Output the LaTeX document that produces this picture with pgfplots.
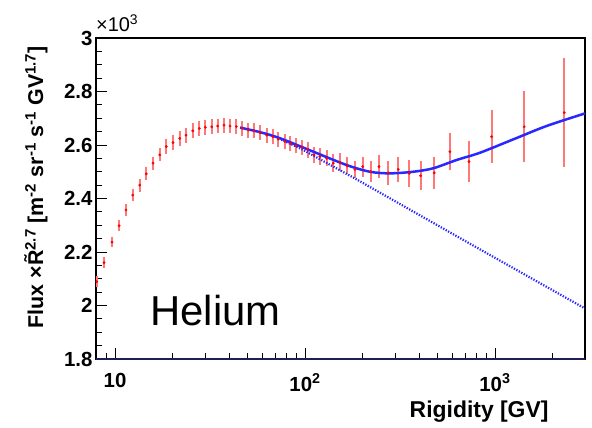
\documentclass[border=0pt]{standalone}
\usepackage{fontspec}
\setmainfont{Liberation Sans}
\usepackage{pgfplots}
\usepackage{pgfplotstable}
\pgfplotsset{compat=1.18}
\pgfplotstableread{
x y e
8.01 2.089 0.020
8.75 2.160 0.020
9.64 2.237 0.020
10.50 2.298 0.020
11.42 2.357 0.024
12.39 2.413 0.024
13.49 2.450 0.024
14.61 2.492 0.024
15.85 2.532 0.024
17.19 2.563 0.024
18.62 2.594 0.028
20.20 2.609 0.028
21.90 2.625 0.028
23.64 2.637 0.028
25.64 2.653 0.028
27.77 2.662 0.028
29.88 2.666 0.028
32.28 2.668 0.028
34.72 2.671 0.028
37.48 2.674 0.028
40.30 2.671 0.028
43.49 2.669 0.028
46.77 2.663 0.028
50.30 2.656 0.028
53.90 2.653 0.028
57.97 2.646 0.028
62.87 2.637 0.028
67.61 2.631 0.028
72.37 2.622 0.028
78.48 2.613 0.028
83.89 2.606 0.028
89.69 2.598 0.028
96.07 2.592 0.028
103.3 2.583 0.030
111.5 2.563 0.030
119.9 2.557 0.030
130.1 2.550 0.030
140.9 2.532 0.033
152.9 2.535 0.034
167.0 2.522 0.032
183.3 2.509 0.031
201.3 2.519 0.037
221.8 2.500 0.040
245.2 2.519 0.044
274.4 2.496 0.044
309.8 2.509 0.047
354.0 2.494 0.050
406.4 2.485 0.054
479.2 2.496 0.059
579.6 2.575 0.069
729.8 2.538 0.077
960.7 2.631 0.100
1426 2.668 0.132
2317 2.721 0.203
}\heliumdata
\pgfplotstableread{
x y
45.5 2.665
58 2.648
74 2.625
110.6 2.575
165.8 2.525
219.8 2.500
280.2 2.494
371.5 2.500
473.5 2.513
628.7 2.544
833.7 2.571
1248.7 2.621
1870 2.671
2977 2.718
}\fitdata
\pgfplotstableread{
x y
75 2.620
94 2.588
180 2.478
710 2.238
2977 1.989
}\pldata
\definecolor{fitblue}{RGB}{40,40,255}
\definecolor{barred}{RGB}{255,120,120}
\begin{document}
\begin{tikzpicture}
\path[use as bounding box] (-96bp,-69bp) rectangle (496bp,359bp);
\begin{axis}[
  scale only axis, width=489bp, height=321bp,
  xmode=log, xmin=7.94, xmax=2980, ymin=1.8, ymax=3,
  xtick={10,100,1000},
  xticklabels={10,10\textsuperscript{2},10\textsuperscript{3}},
  minor xtick={9,20,30,40,50,60,70,80,90,200,300,400,500,600,700,800,900,2000},
  ytick={1.8,2.0,2.2,2.4,2.6,2.8,3.0},
  yticklabels={1.8,2,2.2,2.4,2.6,2.8,3},
  minor y tick num=3,
  tick align=inside, xtick pos=bottom, ytick pos=left,
  major tick length=11bp, minor tick length=6bp,
  tick style={black, line width=0.8bp},
  axis line style={black, line width=1.2bp},
  ticklabel style={font=\fontsize{20.5}{20.5}\selectfont\bfseries},
  xticklabel style={yshift=-11bp},
  /pgf/number format/assume math mode=true,
  xlabel={Rigidity [GV]},
  xlabel style={font=\fontsize{23}{23}\selectfont\bfseries, at={(axis description cs:0.9325,-0.1807)}, anchor=base east},
  ylabel={Flux \texttimes\~{R}\textsuperscript{2.7} [m\textsuperscript{-2} sr\textsuperscript{-1} s\textsuperscript{-1} GV\textsuperscript{1.7}]},
  ylabel style={font=\fontsize{21.5}{21.5}\selectfont\bfseries, at={(axis description cs:-0.108,0.535)}, anchor=base},
  clip=false,
]
\addplot[only marks, mark=*, mark size=1.2bp, color=red,
  error bars/.cd, y dir=both, y explicit,
  error bar style={barred, line width=2bp}, error mark=none]
  table[x=x, y=y, y error=e] {\heliumdata};
\addplot[fitblue, line width=2.2bp, dash pattern=on 1.3bp off 1.5bp] table[x=x,y=y] {\pldata};
\addplot[fitblue, line width=2.5bp, smooth] table[x=x,y=y] {\fitdata};
\draw[color={rgb,255:red,30;green,30;blue,90}, line width=1.2bp] (rel axis cs:0,0) -- (rel axis cs:1,0);
\node[anchor=base west, font=\fontsize{42}{42}\selectfont, inner sep=0pt] at (axis cs:15.3,1.927) {Helium};
\node[anchor=base west, font=\fontsize{20}{20}\selectfont, inner sep=0pt] at ([yshift=6bp]rel axis cs:0,1) {\texttimes10\textsuperscript{3}};
\end{axis}
\end{tikzpicture}
\end{document}
